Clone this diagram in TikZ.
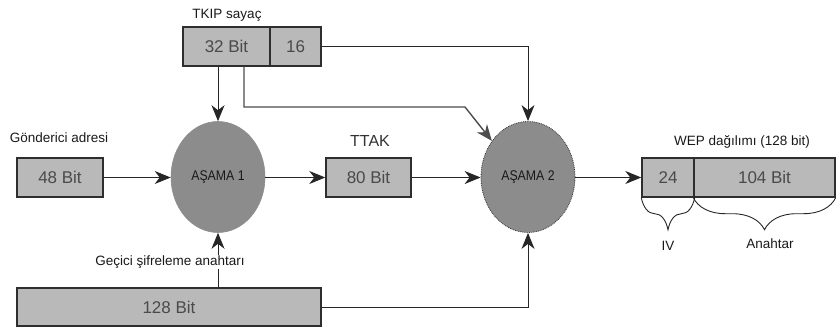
\documentclass[tikz,border=0pt]{standalone}
\usepackage{fontspec}
\setmainfont{Liberation Sans}
\newfontfamily\stagefont[FakeStretch=0.88]{Liberation Sans}
\usetikzlibrary{arrows.meta,decorations.pathreplacing,shapes.geometric}
\definecolor{boxfill}{HTML}{B9B9B9}
\definecolor{boxline}{HTML}{2E2E2E}
\definecolor{stagefill}{HTML}{8C8C8C}
\definecolor{bittext}{HTML}{4A4A4A}
\tikzset{
  bitbox/.style={draw=boxline, line width=1.4pt, fill=boxfill, minimum height=39pt,
    inner sep=0pt, text=bittext, font=\fontsize{17}{17}\selectfont},
  stage/.style={ellipse, fill=stagefill, minimum width=94pt, minimum height=111pt,
    inner sep=0pt, font=\stagefont\fontsize{14}{14}\selectfont, text=black!90},
  caption/.style={font=\fontsize{13.5}{14}\selectfont, text=black!90, inner sep=1pt},
  conn/.style={draw=black!85, line width=1pt},
  tip/.style={-{Stealth[length=16pt,width=13pt,inset=5pt]}},
  arr/.style={conn, tip},
  curly/.style={draw=black!85, line width=0.9pt,
    decorate, decoration={brace, mirror, amplitude=32pt, aspect=0.5}}
}
\begin{document}
\begin{tikzpicture}[x=1pt,y=-1pt]
\useasboundingbox (0,0) rectangle (837,329);

% TKIP counter
\node[caption] (tkiplbl) at (227,15) {TKIP sayaç};
\node[bitbox, minimum width=87pt] (tkA) at (226.5,46.5) {32 Bit};
\node[bitbox, minimum width=51pt] (tkB) at (295.5,46.5) {16};

% sender address
\node[caption] (srclbl) at (59,138) {Gönderici adresi};
\node[bitbox, minimum width=86pt] (src) at (60,177.5) {48 Bit};

% stages
\node[stage, draw=black!45, line width=0.6pt] (s1) at (218,177) {AŞAMA 1};
\node[stage, draw=black!80, line width=0.8pt, densely dotted] (s2) at (528,177) {AŞAMA 2};

% TTAK
\node[font=\fontsize{16}{16}\selectfont, text=black!80, inner sep=1pt] (ttaklbl) at (370,141) {TTAK};
\node[bitbox, minimum width=85pt] (ttak) at (368.5,177.5) {80 Bit};

% WEP key
\node[caption] (weplbl) at (742,142) {WEP dağılımı (128 bit)};
\node[bitbox, minimum width=52pt] (wiv) at (668,177.5) {24};
\node[bitbox, minimum width=141pt] (wkey) at (764.5,177.5) {104 Bit};

% temporal key
\node[bitbox, minimum width=304pt, minimum height=38pt] (tk) at (169,307) {128 Bit};

% braces under the WEP key
\draw[curly] (wiv.south west) -- (wiv.south east);
\draw[curly] (wkey.south west) -- (wkey.south east);
\node[caption] (ivlbl) at (668,246) {IV};
\node[caption] (keylbl) at (770,244) {Anahtar};

% connectors
\coordinate (bend) at (465,107);
\draw[conn, draw=black!70, line width=1.4pt, tip]
  ([xshift=17.5pt]tkA.south) |- (bend) -- (s2.135);
\draw[arr] (s1.north |- tkA.south) -- (s1.north);
\draw[arr] (tkB.east) -| (s2.north);
\draw[arr] (src.east) -- (s1.west |- src.east);
\draw[arr] (s1.east |- ttak.west) -- (ttak.west);
\draw[arr] (ttak.east) -- (s2.west |- ttak.east);
\draw[arr] (s2.east |- wiv.west) -- (wiv.west);
\draw[arr] (tk.north -| s1) -- (s1.south);
\draw[arr] (tk.east) -| (s2.south);

% label over the key line
\node[caption, fill=white] (tklbl) at (170,262) {Geçici şifreleme anahtarı};
\end{tikzpicture}
\end{document}
